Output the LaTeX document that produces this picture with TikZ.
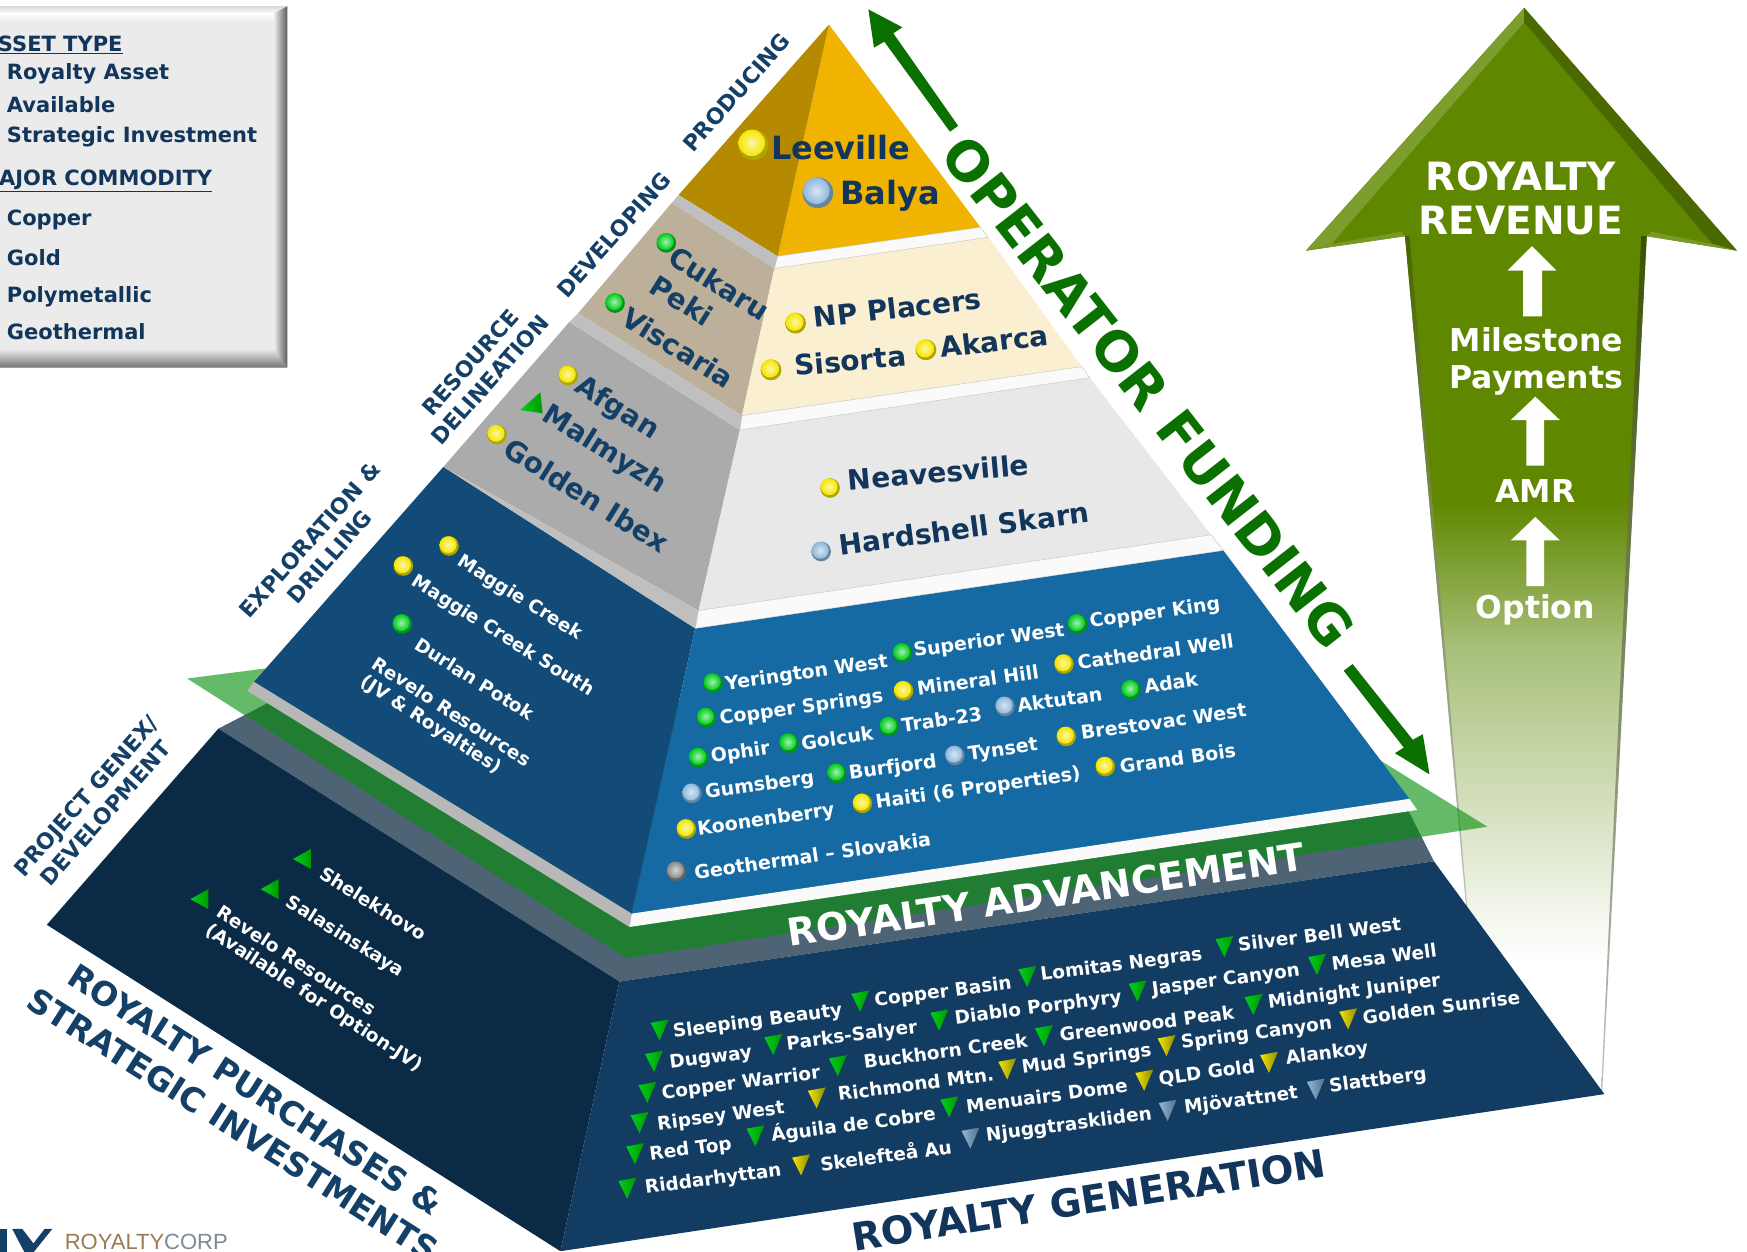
\documentclass[tikz,border=0pt]{standalone}
\usepackage{fontspec}
\setmainfont{DejaVu Sans}
\newfontfamily\logofont{Liberation Sans}
\definecolor{navy}{HTML}{12355B}
\definecolor{labnavy}{HTML}{143F66}
\definecolor{opgreen}{HTML}{0A7000}
\definecolor{argreen}{HTML}{608700}
\definecolor{arlight}{RGB}{168,192,122}
\definecolor{ballblue}{HTML}{8FB8DC}
\definecolor{ballgrey}{HTML}{8A8A8A}
\definecolor{ballgreen}{RGB}{0,205,30}
\definecolor{ballyel}{RGB}{245,230,0}
\definecolor{topband}{RGB}{78,99,115}
\definecolor{botleft}{RGB}{10,42,69}
\definecolor{botright}{RGB}{19,60,98}
\definecolor{plate}{RGB}{4,143,10}
\definecolor{expleft}{RGB}{18,74,120}
\definecolor{expright}{RGB}{21,106,163}
\definecolor{devleft}{RGB}{189,176,154}
\definecolor{devright}{RGB}{251,239,210}
\definecolor{prodright}{RGB}{240,180,0}
\definecolor{prodleft}{RGB}{181,137,0}
\pgfdeclareverticalshading{shaftsh}{100bp}{color(0bp)=(white); color(25bp)=(white); color(46.4bp)=(arlight); color(56.6bp)=(argreen); color(75bp)=(argreen); color(100bp)=(argreen)}
\tikzset{
 hugew/.style={text=white,font=\bfseries\fontsize{31.5}{37}\selectfont,inner sep=0pt,align=center},
 revw/.style={text=white,font=\bfseries\fontsize{39}{43.5}\selectfont,inner sep=0pt,align=center},
 leg/.style={text=navy,font=\bfseries\fontsize{21}{23}\selectfont,anchor=west,inner sep=0pt},
 seclab/.style={text=labnavy,font=\bfseries\fontsize{22}{26}\selectfont,inner sep=0pt,align=center,rotate=48.5},
 big/.style={text=navy,font=\bfseries\fontsize{32}{35}\selectfont,anchor=west,inner sep=0pt},
 mid/.style={text=navy,font=\bfseries\fontsize{28}{30}\selectfont,anchor=west,inner sep=0pt},
 midl/.style={mid,text=labnavy,rotate=-32},
 lw/.style={text=white,font=\bfseries\fontsize{19}{21}\selectfont,anchor=west,inner sep=0pt,rotate=8},
 bl/.style={text=white,font=\bfseries\fontsize{18.5}{21}\selectfont,anchor=west,inner sep=0pt,rotate=7.5},
 ll/.style={text=white,font=\bfseries\fontsize{18.5}{21}\selectfont,anchor=west,inner sep=0pt,rotate=-32},
 llc/.style={text=white,font=\bfseries\fontsize{18.5}{21}\selectfont,anchor=west,inner sep=0pt,align=left,rotate=-33},
 botlab/.style={text=labnavy,font=\bfseries\fontsize{33}{36}\selectfont,anchor=west,inner sep=0pt,rotate=-32.5},
}
\newcommand\bll[4]{\fill[#4!72!black] (#1,#2) circle (1.1*#3); \shade[inner color=#4!35!white,outer color=#4] (#1-0.1*#3,#2-0.14*#3) circle (0.95*#3);}
\newcommand\dtri[4]{\shade[left color=#3,right color=#4] (#1-8,#2-8) -- (#1+8,#2-11) -- (#1,#2+8) -- cycle;}
\newcommand\ltri[2]{\shade[left color=ballgreen,right color=green!60!black] (#1-9,#2) -- (#1+7,#2-9) -- (#1+7,#2+9) -- cycle;}
\begin{document}
\begin{tikzpicture}[x=1.1142pt,y=-1.1142pt]
\useasboundingbox (0,0) rectangle (1568,1123.7);
\clip (0,0) rectangle (1568,1123.7);
\fill[white] (0,0) rectangle (1568,1123.7);
% revenue arrow
\fill[argreen] (1368,7) -- (1559,225) -- (1478,212) -- (1261,212) -- (1172,225) -- cycle;
\shade[shading=shaftsh] (1261,212) -- (1478,212) -- (1444,860) -- (1320.6,860) -- cycle;
\shade[top color=argreen!60!black,middle color=argreen!70!black,bottom color=black!25] (1478,212) -- (1473,212) -- (1437,980) -- (1438,980) -- cycle;
\shade[top color=argreen!75!black,middle color=argreen!85!black,bottom color=black!25] (1261,212) -- (1265,212) -- (1317,815) -- (1316,815) -- cycle;
\fill[argreen!82!white] (1368,7) -- (1172,225) -- (1195,219) -- (1368,20) -- cycle;
\fill[argreen!78!black] (1368,7) -- (1559,225) -- (1537,219) -- (1368,20) -- cycle;
\fill[argreen!85!white] (1172,225) -- (1261,212) -- (1258,208) -- (1195,219) -- cycle;
\fill[argreen!85!white] (1559,225) -- (1478,212) -- (1482,208) -- (1537,219) -- cycle;
\fill[white] (1375,221) -- (1397,243) -- (1384,243) -- (1384,284) -- (1367,284) -- (1367,243) -- (1353,243) -- cycle;
\fill[white] (1378,356) -- (1400,377) -- (1386,377) -- (1386,418) -- (1370,418) -- (1370,377) -- (1356,377) -- cycle;
\fill[white] (1378,464) -- (1400,485) -- (1386,485) -- (1386,526) -- (1370,526) -- (1370,485) -- (1356,485) -- cycle;
\node (rev) [revw] at (1365,178) {ROYALTY\\REVENUE};
\node (mile) [hugew] at (1379,324.5) {Milestone\\Payments};
\node (amr) [hugew] at (1378,441) {AMR};
\node (opt) [hugew] at (1378,547) {Option};
% bottom tier
\fill[topband] (196,654) -- (556,881) -- (1287,773) -- (1250,700) -- (300,600) -- cycle;
\fill[botleft] (196,654) -- (42,830) -- (503,1123) -- (556,881) -- cycle;
\fill[botright] (556,881) -- (1287,773) -- (1440,982) -- (503,1123) -- cycle;
% green plate
\fill[plate,opacity=.61] (168,609) -- (238,600) -- (1230,677) -- (1335,742) -- (562,860) -- cycle;
% blue tier
\fill[expleft] (398,419) -- (624,564) -- (567,820) -- (228,612) -- cycle;
\fill[expright] (624,564) -- (1098,494) -- (1265,717) -- (567,820) -- cycle;
\fill[black!28] (228,612) -- (567,820) -- (565,832) -- (222,620) -- cycle;
\fill[black!2] (567,820) -- (1265,717) -- (1272,727) -- (565,832) -- cycle;
% resource tier
\fill[black!33] (511,289) -- (664,386) -- (627,548) -- (398,419) -- cycle;
\fill[black!9] (664,386) -- (978,339) -- (1087,480) -- (627,548) -- cycle;
\fill[black!25] (398,419) -- (627,548) -- (624,564) -- cycle;
\fill[black!2,draw=black!25,line width=.4pt] (627,548) -- (1087,480) -- (1098,494) -- (624,564) -- cycle;
% developing tier
\fill[devleft] (603,182) -- (695,241) -- (666,373) -- (519,281) -- cycle;
\fill[devright] (695,241) -- (887,213) -- (971,329) -- (666,373) -- cycle;
\fill[black!25] (519,281) -- (666,373) -- (664,386) -- (511,289) -- cycle;
\fill[black!2,draw=black!25,line width=.4pt] (666,373) -- (971,329) -- (978,339) -- (664,386) -- cycle;
% producing tier
\fill[prodright] (744,22) -- (880,204) -- (698,230) -- cycle;
\fill[prodleft] (744,22) -- (698,230) -- (609,175) -- cycle;
\fill[black!25] (609,175) -- (698,230) -- (695,241) -- (603,182) -- cycle;
\fill[black!2,draw=black!25,line width=.4pt] (698,230) -- (880,204) -- (887,213) -- (695,241) -- cycle;
% legend
\fill[black!8] (0,5.5) rectangle (258,330);
\shade[top color=black!15,bottom color=white] (0,5.5) -- (258,5.5) -- (246,12) -- (0,12) -- cycle;
\shade[top color=white,bottom color=black!8] (0,12) -- (246,12) -- (246,20) -- (0,20) -- cycle;
\shade[left color=black!8,right color=black!65] (246,12) -- (258,5.5) -- (258,330) -- (246,314) -- cycle;
\shade[top color=black!10,bottom color=black!55] (0,314) -- (246,314) -- (258,330) -- (0,330) -- cycle;
\node (l1) [leg] at (-2,40) {\underline{SSET TYPE}};
\node (l2) [leg] at (6,66.5) {Royalty Asset};
\node (l3) [leg] at (6,94) {Available};
\node (l4) [leg] at (6,122.5) {Strategic Investment};
\node (l5) [leg] at (-1,162) {\underline{AJOR COMMODITY}};
\node (l6) [leg] at (6,197.5) {Copper};
\node (l7) [leg] at (6,231) {Gold};
\node (l8) [leg] at (6,266) {Polymetallic};
\node (l9) [leg] at (6,298) {Geothermal};
% stage labels
\node (s1) [seclab] at (661,83) {PRODUCING};
\node (s2) [seclab] at (551,211) {DEVELOPING};
\node (s3) [seclab] at (431,333) {RESOURCE\\DELINEATION};
\node (s4) [seclab] at (287,492) {EXPLORATION \&\\DRILLING};
\node (s5) [seclab] at (86,722) {PROJECT GENEX/\\DEVELOPMENT};
% operator funding
\node (op) [text=opgreen,font=\bfseries\fontsize{54.5}{57}\selectfont,inner sep=0pt,rotate=-52] at (1031,352) {OPERATOR FUNDING};
\fill[opgreen] (779.4,8.4) -- (809.9,24.5) -- (801.8,29.9) -- (860,113) -- (852.6,118.2) -- (793.7,37.4) -- (784.4,42.8) -- cycle;
\fill[opgreen] (1283,695) -- (1252,676) -- (1260,671) -- (1206,602) -- (1214,596) -- (1268,664) -- (1277,659) -- cycle;
% producing
\bll{676}{130}{12.5}{ballyel}
\node (leev) [big] at (692,132) {Leeville};
\bll{734}{173}{12.5}{ballblue}
\node (baly) [big] at (754,176) {Balya};
% developing
\bll{714}{290}{8.5}{ballyel}
\node (np) [mid,rotate=6.5] at (730,285) {NP Placers};
\bll{692}{332}{8.5}{ballyel}
\node (sis) [mid,rotate=5] at (713,328) {Sisorta};
\bll{831}{314}{8.5}{ballyel}
\node (aka) [mid,rotate=7] at (844,312) {Akarca};
\bll{598}{218}{8}{ballgreen}
\node (cuk) [midl] at (603,228) {Cukaru};
\node (pek) [midl] at (586,254) {Peki};
\bll{552}{272}{8}{ballgreen}
\node (vis) [midl] at (561,282) {Viscaria};
% resource
\bll{510}{337}{8}{ballyel}
\node (afg) [midl] at (518,345) {Afgan};
\shade[left color=ballgreen,right color=green!60!black] (467,368) -- (485,352) -- (487,371) -- cycle;
\node (mal) [midl] at (489,371) {Malmyzh};
\bll{446}{390}{8}{ballyel}
\node (gol) [midl] at (455,400) {Golden Ibex};
\bll{745}{438}{8}{ballyel}
\node (nea) [mid,rotate=5] at (761,431) {Neavesville};
\bll{737}{495}{8}{ballblue}
\node (har) [mid,rotate=7.5] at (753,489) {Hardshell Skarn};
% exploration left
\bll{403}{490}{8}{ballyel}
\node (mc) [ll] at (412,503) {Maggie Creek};
\bll{362}{508}{8}{ballyel}
\node (mcs) [ll] at (371,521) {Maggie Creek South};
\bll{361}{560}{8}{ballgreen}
\node (dur) [ll] at (374,577) {Durlan Potok};
\node (rev1) [llc] at (330,603) {Revelo Resources\\(JV \& Royalties)};
% exploration right
\bll{640}{613}{8}{ballgreen}
\node (a1) [lw] at (651,615) {Yerington West};
\bll{810}{586}{8}{ballgreen}
\node (a2) [lw] at (820,585) {Superior West};
\bll{967}{560}{8}{ballgreen}
\node (a3) [lw] at (978,559) {Copper King};
\bll{634}{644}{8}{ballgreen}
\node (b1) [lw] at (646,646) {Copper Springs};
\bll{811}{620}{8}{ballyel}
\node (b2) [lw] at (823,618) {Mineral Hill};
\bll{955}{596}{8}{ballyel}
\node (b3) [lw] at (967,595) {Cathedral Well};
\bll{627}{680}{8}{ballgreen}
\node (c1) [lw] at (638,680) {Ophir};
\bll{708}{667}{8}{ballgreen}
\node (c2) [lw] at (719,667) {Golcuk};
\bll{798}{652}{8}{ballgreen}
\node (c3) [lw] at (809,651) {Trab-23};
\bll{902}{634}{8}{ballblue}
\node (c4) [lw] at (913,633) {Aktutan};
\bll{1015}{619}{8}{ballgreen}
\node (c5) [lw] at (1027,616) {Adak};
\bll{621}{712}{8}{ballblue}
\node (d1) [lw] at (633,712) {Gumsberg};
\bll{751}{694}{8}{ballgreen}
\node (d2) [lw] at (762,695) {Burfjord};
\bll{857}{678}{8}{ballblue}
\node (d3) [lw] at (869,678) {Tynset};
\bll{957}{661}{8}{ballyel}
\node (d4) [lw] at (970,658) {Brestovac West};
\bll{616}{744}{8}{ballyel}
\node (e1) [lw] at (626,745) {Koonenberry};
\bll{774}{721}{8}{ballyel}
\node (e2) [lw] at (786,721) {Haiti (6 Properties)};
\bll{992}{688}{8}{ballyel}
\node (e3) [lw] at (1005,688) {Grand Bois};
\bll{607}{782}{8}{ballgrey}
\node (f1) [lw] at (623,783) {Geothermal -- Slovakia};
\node (adv) [text=white,font=\bfseries\fontsize{38}{40}\selectfont,inner sep=0pt,rotate=8.5] at (939,803) {ROYALTY ADVANCEMENT};
% bottom left
\ltri{272}{771}
\node (sh) [ll] at (289,782) {Shelekhovo};
\ltri{243}{798}
\node (sa) [ll] at (258,809) {Salasinskaya};
\ltri{180}{807}
\node (rv2) [llc] at (191,826) {Revelo Resources\\(Available for Option-JV)};
\node (pur) [botlab] at (64,873) {ROYALTY PURCHASES \&};
\node (str) [botlab] at (28,894) {STRATEGIC INVESTMENTS};
\node (gen) [text=navy,font=\bfseries\fontsize{38.5}{40}\selectfont,inner sep=0pt,rotate=9] at (977,1077) {ROYALTY GENERATION};
% bottom right
\dtri{592}{926}{ballgreen}{green!60!black}
\node (g1) [bl] at (604,927) {Sleeping Beauty};
\dtri{772}{900}{ballgreen}{green!60!black}
\node (g2) [bl] at (785,899) {Copper Basin};
\dtri{922}{878}{ballgreen}{green!60!black}
\node (g3) [bl] at (934,876) {Lomitas Negras};
\dtri{1099}{851}{ballgreen}{green!60!black}
\node (g4) [bl] at (1111,848) {Silver Bell West};
\dtri{587}{954}{ballgreen}{green!60!black}
\node (h1) [bl] at (601,955) {Dugway};
\dtri{694}{939}{ballgreen}{green!60!black}
\node (h2) [bl] at (706,938) {Parks-Salyer};
\dtri{843}{917}{ballgreen}{green!60!black}
\node (h3) [bl] at (857,915) {Diablo Porphyry};
\dtri{1021}{891}{ballgreen}{green!60!black}
\node (h4) [bl] at (1034,889) {Jasper Canyon};
\dtri{1182}{867}{ballgreen}{green!60!black}
\node (h5) [bl] at (1195,865) {Mesa Well};
\dtri{581}{982}{ballgreen}{green!60!black}
\node (i1) [bl] at (594,982) {Copper Warrior};
\dtri{752}{958}{ballgreen}{green!60!black}
\node (i2) [bl] at (775,953) {Buckhorn Creek};
\dtri{937}{931}{ballgreen}{green!60!black}
\node (i3) [bl] at (951,929) {Greenwood Peak};
\dtri{1125}{903}{ballgreen}{green!60!black}
\node (i4) [bl] at (1138,901) {Midnight Juniper};
\dtri{574}{1009}{ballgreen}{green!60!black}
\node (j1) [bl] at (590,1010) {Ripsey West};
\dtri{733}{987}{ballyel}{yellow!55!black}
\node (j2) [bl] at (752,982) {Richmond Mtn.};
\dtri{904}{961}{ballyel}{yellow!55!black}
\node (j3) [bl] at (917,959) {Mud Springs};
\dtri{1047}{940}{ballyel}{yellow!55!black}
\node (j4) [bl] at (1060,937) {Spring Canyon};
\dtri{1210}{916}{ballyel}{yellow!55!black}
\node (j5) [bl] at (1223,913) {Golden Sunrise};
\dtri{570}{1037}{ballgreen}{green!60!black}
\node (k1) [bl] at (583,1037) {Red Top};
\dtri{678}{1021}{ballgreen}{green!60!black}
\node (k2) [bl] at (692,1019) {Águila de Cobre};
\dtri{852}{995}{ballgreen}{green!60!black}
\node (k3) [bl] at (867,993) {Menuairs Dome};
\dtri{1027}{971}{ballyel}{yellow!55!black}
\node (k4) [bl] at (1040,969) {QLD Gold};
\dtri{1139}{955}{ballyel}{yellow!55!black}
\node (k5) [bl] at (1154,951) {Alankoy};
\dtri{563}{1068}{ballgreen}{green!60!black}
\node (m1) [bl] at (579,1067) {Riddarhyttan};
\dtri{719}{1047}{ballyel}{yellow!55!black}
\node (m2) [bl] at (736,1044) {Skelefteå Au};
\dtri{871}{1023}{ballblue}{ballblue!60!black}
\node (m3) [bl] at (885,1020) {Njuggtraskliden};
\dtri{1048}{998}{ballblue}{ballblue!60!black}
\node (m4) [bl] at (1063,995) {Mjövattnet};
\dtri{1181}{979}{ballblue}{ballblue!60!black}
\node (m5) [bl] at (1193,976) {Slattberg};
% logo
\fill[labnavy] (0,1103) rectangle (6,1124);
\fill[labnavy] (11,1103) -- (20,1103) -- (30,1116) -- (40,1103) -- (47,1103) -- (30,1124) -- (22,1124) -- cycle;
\node (logo) [anchor=west,inner sep=0pt,font=\logofont\fontsize{22}{24}\selectfont] at (58,1115) {\textcolor[HTML]{9A7B4F}{ROYALTY}\textcolor[HTML]{7C8A97}{CORP}};
\end{tikzpicture}
\end{document}
